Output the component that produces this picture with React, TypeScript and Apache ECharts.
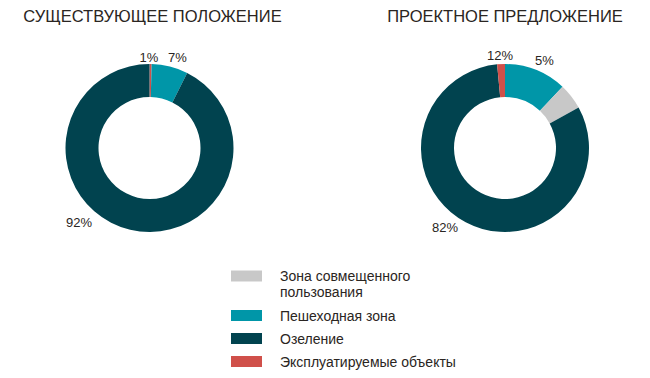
import React, { useEffect, useRef } from "react";
import * as echarts from "echarts";

const categories = [
  "Зона совмещенного\nпользования",
  "Пешеходная зона",
  "Озеление",
  "Эксплуатируемые объекты",
];
const colors = ["#c8c8c8", "#0096a8", "#01434f", "#d0504a"];

const titles = ["СУЩЕСТВУЮЩЕЕ ПОЛОЖЕНИЕ", "ПРОЕКТНОЕ ПРЕДЛОЖЕНИЕ"];

// existing: clockwise from top
const existingCats = [3, 1, 2];
const existingValues = [0.4, 7, 92.6];
const existingLabels = ["1%", "7%", "92%"];

// proposal: clockwise from top
const proposalCats = [1, 0, 2, 3];
const proposalValues = [12, 5, 81.5, 1.5];
const proposalLabels = ["12%", "5%", "82%"];

const TEXT = "#2a2522";
const FONT = "'Liberation Sans', Arial, sans-serif";

export default function App() {
  const ref = useRef<HTMLDivElement>(null);
  useEffect(() => {
    document.body.style.margin = "0";
    const chart = echarts.init(ref.current!, null, { renderer: "svg" });
    const centers = [
      [149.5, 148],
      [505, 148],
    ];
    const mk = (cats: number[], vals: number[], ci: number) => ({
      type: "pie",
      center: centers[ci],
      radius: [51, 84],
      startAngle: 90,
      clockwise: true,
      silent: true,
      label: { show: false },
      labelLine: { show: false },
      emphasis: { disabled: true },
      itemStyle: { borderWidth: 0 },
      data: cats.map((c, i) => ({
        name: categories[c],
        value: vals[i],
        itemStyle: { color: colors[c] },
      })),
    });
    const labelPos = [
      [[149, 57], [177.5, 57], [79, 222.5]],
      [[500, 55.5], [544.5, 60], [445, 227]],
    ];
    const labelSets = [existingLabels, proposalLabels];
    const graphic: any[] = [];
    titles.forEach((t, i) => {
      graphic.push({
        type: "text",
        x: i === 0 ? 152.5 : 505,
        y: 15.5,
        silent: true,
        style: {
          text: t,
          fill: TEXT,
          font: `16.5px ${FONT}`,
          textAlign: "center",
          textVerticalAlign: "middle",
          align: "center",
          verticalAlign: "middle",
        },
      });
    });
    labelSets.forEach((set, si) =>
      set.forEach((t, i) => {
        graphic.push({
          type: "text",
          x: labelPos[si][i][0],
          y: labelPos[si][i][1],
          silent: true,
          style: {
            text: t,
            fill: TEXT,
            font: `13px ${FONT}`,
            textAlign: "center",
            textVerticalAlign: "middle",
            align: "center",
            verticalAlign: "middle",
          },
        });
      })
    );
    chart.setOption({
      animation: false,
      legend: {
        orient: "vertical",
        left: 231,
        top: 252,
        padding: 0,
        itemGap: 8,
        itemWidth: 31,
        itemHeight: 11,
        icon: "rect",
        selectedMode: false,
        formatter: (name: string) => (name.indexOf("\n") >= 0 ? "\n" + name : name),
        textStyle: {
          color: TEXT,
          fontSize: 14,
          fontFamily: FONT,
          lineHeight: 15,
          padding: [0, 0, 0, 13],
        },
        data: categories.map((c, i) =>
          i === 0 ? { name: c, textStyle: { lineHeight: 16 } } : { name: c }
        ),
      },
      graphic,
      series: [mk(existingCats, existingValues, 0), mk(proposalCats, proposalValues, 1)],
    });
    return () => chart.dispose();
  }, []);
  return <div ref={ref} style={{ width: 650, height: 378 }} />;
}
